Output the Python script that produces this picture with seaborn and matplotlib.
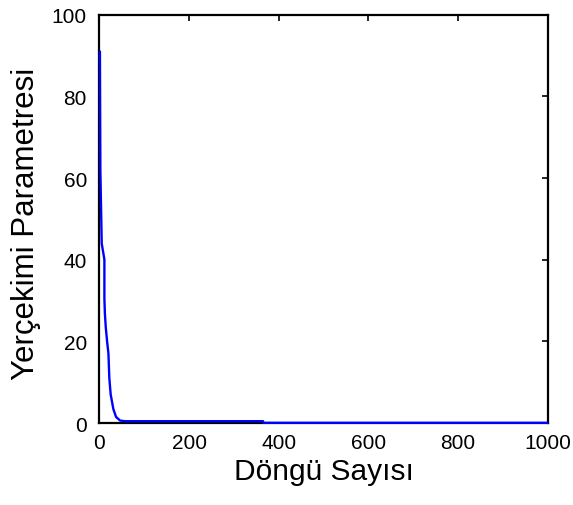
import matplotlib
matplotlib.use("Agg")
import matplotlib.pyplot as plt
import seaborn as sns
import pandas as pd

# Data
iterations = [1, 2, 5, 11, 11, 12, 14, 17, 20, 22, 25, 31, 37, 46, 57, 365, 366, 1000]
gravity = [91, 62, 44, 40, 30.5, 27, 23.5, 20, 17, 11, 7, 3.4, 1.5, 0.6, 0.45, 0.45, 0.05, 0.05]
x_ticks = [0, 200, 400, 600, 800, 1000]
y_ticks = [0, 20, 40, 60, 80, 100]
x_label = "Döngü Sayısı"
y_label = "Yerçekimi Parametresi"

df = pd.DataFrame({"iter": iterations, "g": gravity})

sns.set_theme(style="white")
plt.rcParams["font.family"] = ["Liberation Sans", "DejaVu Sans"]
plt.rcParams["text.color"] = "black"
plt.rcParams["axes.labelcolor"] = "black"
plt.rcParams["xtick.color"] = "black"
plt.rcParams["ytick.color"] = "black"

fig = plt.figure(figsize=(5.73, 5.06), dpi=100)
ax = fig.add_axes([0.1736, 0.162, 0.9555 - 0.1736, 0.969 - 0.162])

sns.lineplot(data=df, x="iter", y="g", ax=ax, color="#0000ff", linewidth=1.7,
             estimator=None, sort=False, zorder=3, clip_on=False)

ax.set_xlim(0, 1000)
ax.set_ylim(0, 100)
ax.set_xticks(x_ticks)
ax.set_yticks(y_ticks)
ax.tick_params(axis="both", which="both", direction="in", length=4, width=1.2,
               colors="black", labelsize=15, top=True, right=True)
ax.tick_params(axis="y", pad=9)
ax.tick_params(axis="x", pad=7)
for s in ax.spines.values():
    s.set_visible(True)
    s.set_color("black")
    s.set_linewidth(1.6)

ax.set_xlabel(x_label, fontsize=21.5, labelpad=4, color="black")
ax.set_ylabel(y_label, fontsize=22.5, color="black")
ax.yaxis.set_label_coords(-0.13, 0.49)

fig.savefig("out.png", dpi=100)
